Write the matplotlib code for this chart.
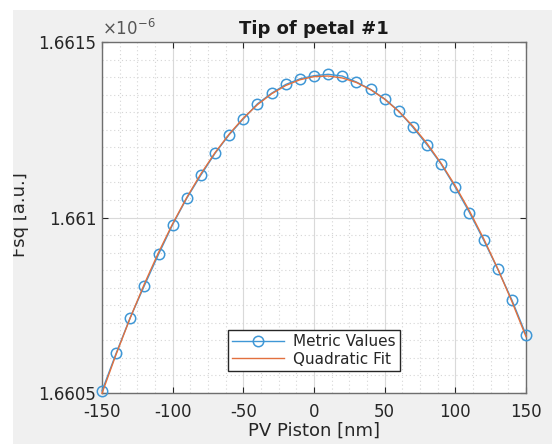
import numpy as np
import matplotlib.pyplot as plt
from matplotlib.patches import Rectangle
from matplotlib.ticker import MultipleLocator

plt.rcParams['axes.unicode_minus'] = False

# ================= data (Fsq in units of 1e-6) =================
piston_nm = [-150, -140, -130, -120, -110, -100, -90, -80, -70, -60, -50,
             -40, -30, -20, -10, 0, 10, 20, 30, 40, 50,
             60, 70, 80, 90, 100, 110, 120, 130, 140, 150]
fsq = [1.660506, 1.660613, 1.660715, 1.660806, 1.660895, 1.660980, 1.661055,
       1.661121, 1.661183, 1.661236, 1.661281, 1.661324, 1.661354, 1.661379,
       1.661395, 1.661404, 1.661408, 1.661403, 1.661386, 1.661365, 1.661338,
       1.661303, 1.661257, 1.661207, 1.661152, 1.661086, 1.661014, 1.660936,
       1.660853, 1.660765, 1.660666]
x_ticks = [-150, -100, -50, 0, 50, 100, 150]
y_ticks = [1.6605, 1.661, 1.6615]
y_tick_labels = ['1.6605', '1.661', '1.6615']

# quadratic fit of the metric values
coef = np.polyfit(piston_nm, fsq, 2)
fit = np.polyval(coef, piston_nm)

W, H = 552, 444
fig = plt.figure(figsize=(W / 100, H / 100), dpi=100)
fig.patch.set_facecolor('#f0f0f0')

ax = fig.add_axes([102 / W, 1 - 393 / H, 424 / W, 351 / H])
ax.set_facecolor('white')

blue = '#3f97d6'
orange = '#e2703e'
ax.plot(piston_nm, fsq, color=blue, marker='o', markersize=7.5,
        markerfacecolor='none', markeredgewidth=1.1, linewidth=1.0,
        label='Metric Values', clip_on=False, zorder=3)
ax.plot(piston_nm, fit, color=orange, linewidth=1.0, label='Quadratic Fit',
        clip_on=False, zorder=4)

ax.set_xlim(-150, 150)
ax.set_ylim(1.6605, 1.6615)
ax.set_xticks(x_ticks)
ax.set_xticklabels([str(v) for v in x_ticks])
ax.set_yticks(y_ticks)
ax.set_yticklabels(y_tick_labels)
ax.xaxis.set_minor_locator(MultipleLocator(12.5))
ax.yaxis.set_minor_locator(MultipleLocator(0.00005))

tick_c = '#262626'
ax.tick_params(which='major', direction='in', length=4, width=0.8,
               top=True, right=True, labelsize=12, colors=tick_c, pad=4)
ax.tick_params(axis='x', which='major', pad=7)
ax.tick_params(which='minor', length=0, top=True, right=True)
ax.grid(True, which='major', color='#d9d9d9', linewidth=0.8, linestyle='-')
ax.grid(True, which='minor', color='#d5d5d5', linewidth=0.8, linestyle=(0, (1, 2.5)))
ax.set_axisbelow(True)
for s in ax.spines.values():
    s.set_color('#6e6e6e')
    s.set_linewidth(1.0)

ax.set_title('Tip of petal #1', fontsize=13, fontweight='bold', color='#1a1a1a', pad=6)
ax.set_xlabel('PV Piston [nm]', fontsize=13, color=tick_c, labelpad=1)
fig.text(20 / W, 1 - 215 / H, 'Fsq [a.u.]', rotation=90, fontsize=13,
         color=tick_c, ha='center', va='center')
ax.text(0.0, 1.008, r'$\times10^{-6}$', transform=ax.transAxes, fontsize=12,
        color='#555555', ha='left', va='bottom')

leg = ax.legend(loc='lower center', bbox_to_anchor=(0.5, 0.04), fontsize=11,
                handlelength=3.4, fancybox=False, framealpha=1,
                edgecolor='#262626', borderpad=0.3, labelspacing=0.15,
                handletextpad=0.6)
leg.get_frame().set_linewidth(1.0)
for t in leg.get_texts():
    t.set_color(tick_c)

# white border strip at top and left of the screenshot
fig.add_artist(Rectangle((0, 0), 13 / W, 1, transform=fig.transFigure,
                         facecolor='white', edgecolor='none', zorder=10))
fig.add_artist(Rectangle((0, 1 - 10 / H), 1, 10 / H, transform=fig.transFigure,
                         facecolor='white', edgecolor='none', zorder=10))

fig.savefig('out.png', dpi=100)
